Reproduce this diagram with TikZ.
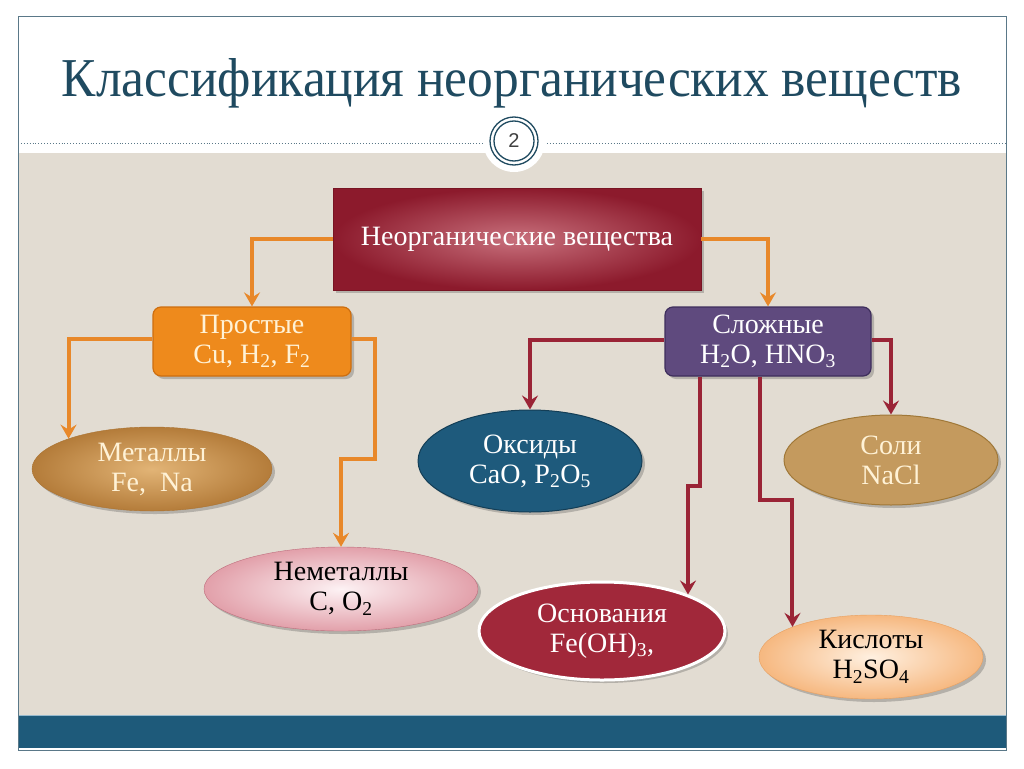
\documentclass[tikz,border=0pt]{standalone}
\usepackage{fontspec}
\setmainfont{Liberation Serif}
\newfontfamily\numfont{Liberation Sans}
\usetikzlibrary{shapes.geometric,arrows.meta,shadows}
\definecolor{titlec}{HTML}{1F4A60}
\definecolor{framec}{HTML}{5A7888}
\definecolor{beige}{HTML}{E2DCD2}
\definecolor{barblue}{HTML}{1E5A7A}
\definecolor{barline}{HTML}{96B9CD}
\definecolor{orangec}{HTML}{E8882A}
\definecolor{redc}{HTML}{9A2436}
\definecolor{prostc}{HTML}{EE8A1C}
\definecolor{prostd}{HTML}{CD6E0F}
\definecolor{slozhc}{HTML}{5F4A7E}
\definecolor{slozhd}{HTML}{3E2E5C}
\definecolor{oksc}{HTML}{1E5A7C}
\definecolor{oksd}{HTML}{143E56}
\definecolor{solic}{HTML}{C49A5E}
\definecolor{solid}{HTML}{A07838}
\definecolor{osnc}{HTML}{A1283A}
\definecolor{creamc}{HTML}{FFF2D6}
\definecolor{rootin}{HTML}{C8707C}
\definecolor{rootout}{HTML}{8C1A2C}
\definecolor{rootd}{HTML}{781423}
\definecolor{metin}{HTML}{E2B476}
\definecolor{metout}{HTML}{B47C3A}
\definecolor{metd}{HTML}{AA7332}
\definecolor{nemin}{HTML}{FDF2F4}
\definecolor{nemout}{HTML}{E2A0AA}
\definecolor{nemd}{HTML}{BE6E7D}
\definecolor{kisin}{HTML}{FFF0E0}
\definecolor{kisout}{HTML}{F6B880}
\definecolor{kisd}{HTML}{E8A060}
\tikzset{
  sh/.style={drop shadow={shadow xshift=3pt,shadow yshift=-3pt,opacity=0.3,fill=black!70}},
  txt/.style={font=\fontsize{28}{30}\selectfont, align=center, inner sep=0pt},
  rootbox/.style={txt, sh, rectangle, minimum width=368pt, minimum height=102pt,
     inner color=rootin, outer color=rootout, draw=rootd, line width=0.6pt, text=white},
  ubox/.style={txt, sh, rectangle, rounded corners=8pt, minimum height=69pt, line width=1.2pt},
  ell/.style={txt, sh, ellipse, minimum width=#1},
  oarrow/.style={draw=orangec, line width=4pt, -{Stealth[length=14pt,width=16pt,inset=5pt]}},
  rarrow/.style={draw=redc, line width=4pt, -{Stealth[length=14pt,width=16pt,inset=5pt]}},
}
\begin{document}
\begin{tikzpicture}[x=1pt,y=-1pt]
\useasboundingbox (0,0) rectangle (1024,768);
% slide background
\fill[white] (0,0) rectangle (1024,768);
\fill[beige] (18,153) rectangle (1006,716);
\fill[barblue] (18,716) rectangle (1006,748);
\draw[barline, line width=1.5pt] (18,715.5) -- (1006,715.5);
\draw[framec, line width=1pt] (18,17) rectangle (1006,750);
% title
\node[anchor=base, text=titlec, inner sep=0pt] (title) at (512,96)
  {\resizebox{900pt}{38pt}{\fontsize{50}{56}\selectfont Классификация неорганических веществ}};
% dotted line and number circle
\draw[framec, dotted, line width=0.9pt] (18,143) -- (484,143);
\draw[framec, dotted, line width=0.9pt] (544,143) -- (1006,143);
\fill[white] (514,141) circle (31);
\draw[titlec, line width=1.3pt] (514,141) circle (24);
\draw[titlec, line width=1.3pt] (514,141) circle (20);
\node[font=\numfont\fontsize{20}{22}\selectfont, text=black!75] (num) at (514,141) {2};
% nodes
\node[rootbox] (root) at (517,239) {Неорганические вещества};
\node[ubox, fill=prostc, draw=prostd, minimum width=198pt, text=creamc]
  (prost) at (252,341.5) {Простые\\Cu, H\textsubscript{2}, F\textsubscript{2}};
\node[ubox, fill=slozhc, draw=slozhd, minimum width=206pt, text=white]
  (slozh) at (768,341.5) {Сложные\\H\textsubscript{2}O, HNO\textsubscript{3}};
\node[ell=240pt, minimum height=84pt, inner color=metin, outer color=metout, draw=metd, text=creamc]
  (met) at (152,469) {Металлы\\Fe,\ \ Na};
\node[ell=274pt, minimum height=84pt, inner color=nemin, outer color=nemout, draw=nemd, text=black]
  (nemet) at (341,589) {Неметаллы\\C, O\textsubscript{2}};
\node[ell=224pt, minimum height=102pt, fill=oksc, draw=oksd, line width=1pt, text=white]
  (oks) at (530,461) {Оксиды\\CaO, P\textsubscript{2}O\textsubscript{5}};
\node[ell=214pt, minimum height=90pt, fill=solic, draw=solid, line width=1pt, text=creamc]
  (soli) at (891,460) {Соли\\NaCl};
\node[ell=246pt, minimum height=98pt, fill=osnc, draw=white, line width=3pt, text=white]
  (osn) at (602,631) {Основания\\Fe(OH)\textsubscript{3},};
\node[ell=224pt, minimum height=84pt, inner color=kisin, outer color=kisout, draw=kisd, text=black]
  (kis) at (871,657) {Кислоты\\H\textsubscript{2}SO\textsubscript{4}};
% junction coordinates
\coordinate (j1) at (375,459);
\coordinate (b1) at ([xshift=-68pt]slozh.south);
\coordinate (b2) at (700,486);
\coordinate (c1) at ([xshift=-8pt]slozh.south);
\coordinate (c2) at (760,500);
% connectors
\draw[oarrow] (root.west) -| (prost.north);
\draw[oarrow] (root.east) -| (slozh.north);
\draw[oarrow] ([yshift=3pt]prost.west) -| (met.160);
\draw[oarrow] ([yshift=3pt]prost.east) -| (j1) -| (nemet.north);
\draw[rarrow] ([yshift=2pt]slozh.west) -| (oks.north);
\draw[rarrow] ([yshift=2pt]slozh.east) -| (soli.north);
\draw[rarrow] (b1) -- (b2) -| (osn.23);
\draw[rarrow] (c1) -- (c2) -| (kis.159);
\end{tikzpicture}
\end{document}
